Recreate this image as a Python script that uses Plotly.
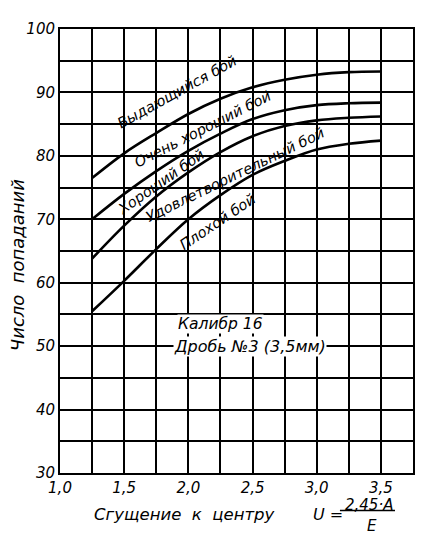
import plotly.graph_objects as go

# data
x_vals = [1.25, 1.5, 1.75, 2.0, 2.25, 2.5, 2.75, 3.0, 3.25, 3.5]
outstanding = [76.5, 80.4, 83.6, 86.6, 89.0, 90.8, 92.0, 92.8, 93.2, 93.3]
very_good = [70.0, 74.0, 77.6, 80.8, 83.5, 85.8, 87.2, 88.0, 88.3, 88.4]
good = [63.8, 69.0, 73.6, 77.4, 80.6, 83.1, 84.7, 85.6, 86.0, 86.2]
poor = [55.5, 60.3, 65.3, 70.0, 73.8, 77.0, 79.2, 81.0, 81.9, 82.4]

curve_labels = ["Выдающийся бой", "Очень хороший бой", "Хороший бой",
                "Удовлетворительный бой", "Плохой бой"]
label_x = [1.91, 2.11, 1.785, 2.36, 2.227]
label_y = [90.1, 84.3, 75.9, 77.0, 69.5]
label_angle = [-29, -27, -35, -26, -34]

x_ticks = [1.0, 1.25, 1.5, 1.75, 2.0, 2.25, 2.5, 2.75, 3.0, 3.25, 3.5, 3.75]
x_ticktext = ["1,0", "", "1,5", "", "2,0", "", "2,5", "", "3,0", "", "3,5", ""]
y_ticks = [30, 35, 40, 45, 50, 55, 60, 65, 70, 75, 80, 85, 90, 95, 100]
y_ticktext = ["30", "", "40", "", "50", "", "60", "", "70", "", "80", "", "90", "", "100"]

FONT = "DejaVu Sans"


def f(size):
    return dict(family=FONT, size=size, color="black", style="italic")


fig = go.Figure()
for ys in [outstanding, very_good, good, poor]:
    fig.add_trace(go.Scatter(x=x_vals, y=ys, mode="lines",
                             line=dict(color="black", width=2.6, shape="spline"),
                             showlegend=False, hoverinfo="skip"))

annotations = []
for t, lx, ly, ang in zip(curve_labels, label_x, label_y, label_angle):
    annotations.append(dict(x=lx, y=ly, text=t, showarrow=False, textangle=ang,
                            font=f(14.5)))

annotations.append(dict(x=2.25, y=53.5, text="Калибр 16", showarrow=False,
                        bgcolor="white", borderpad=0, font=f(15.5)))
annotations.append(dict(x=2.48, y=49.9, text="Дробь №3 (3,5мм)", showarrow=False,
                        bgcolor="white", borderpad=0, font=f(16)))

# axis titles
annotations.append(dict(xref="paper", yref="paper", x=-0.122, y=0.468,
                        xanchor="center", yanchor="middle",
                        text="Число  попаданий", showarrow=False, textangle=-90,
                        font=f(18)))
annotations.append(dict(xref="paper", yref="paper", x=0.091, y=-0.0935,
                        xanchor="left", yanchor="middle",
                        text="Сгущение  к  центру", showarrow=False, font=f(16.5)))
annotations.append(dict(xref="paper", yref="paper", x=0.759, y=-0.0935,
                        xanchor="center", yanchor="middle",
                        text="U =", showarrow=False, font=f(16)))
annotations.append(dict(xref="paper", yref="paper", x=0.875, y=-0.0713,
                        xanchor="center", yanchor="middle",
                        text="2,45·A", showarrow=False, font=f(15)))
annotations.append(dict(xref="paper", yref="paper", x=0.884, y=-0.12,
                        xanchor="center", yanchor="middle",
                        text="E", showarrow=False, font=f(15)))

fig.update_layout(
    width=424, height=541,
    margin=dict(l=52, r=19, t=16, b=76),
    paper_bgcolor="white", plot_bgcolor="white",
    font=dict(family=FONT, color="black"),
    annotations=annotations,
    shapes=[dict(type="line", xref="paper", yref="paper",
                 x0=0.793, x1=0.949, y0=-0.0846, y1=-0.0846,
                 line=dict(color="black", width=1.5))],
)
fig.update_xaxes(range=[1.0, 3.75], tickvals=x_ticks, ticktext=x_ticktext,
                 showgrid=True, gridcolor="black", gridwidth=1.5,
                 showline=True, linecolor="black", linewidth=2, mirror=True,
                 ticks="", tickfont=f(15), zeroline=False)
fig.update_yaxes(range=[30, 100], tickvals=y_ticks, ticktext=y_ticktext,
                 showgrid=True, gridcolor="black", gridwidth=1.5,
                 showline=True, linecolor="black", linewidth=2, mirror=True,
                 ticks="", tickfont=f(15), zeroline=False)

fig.write_html("out.html")
